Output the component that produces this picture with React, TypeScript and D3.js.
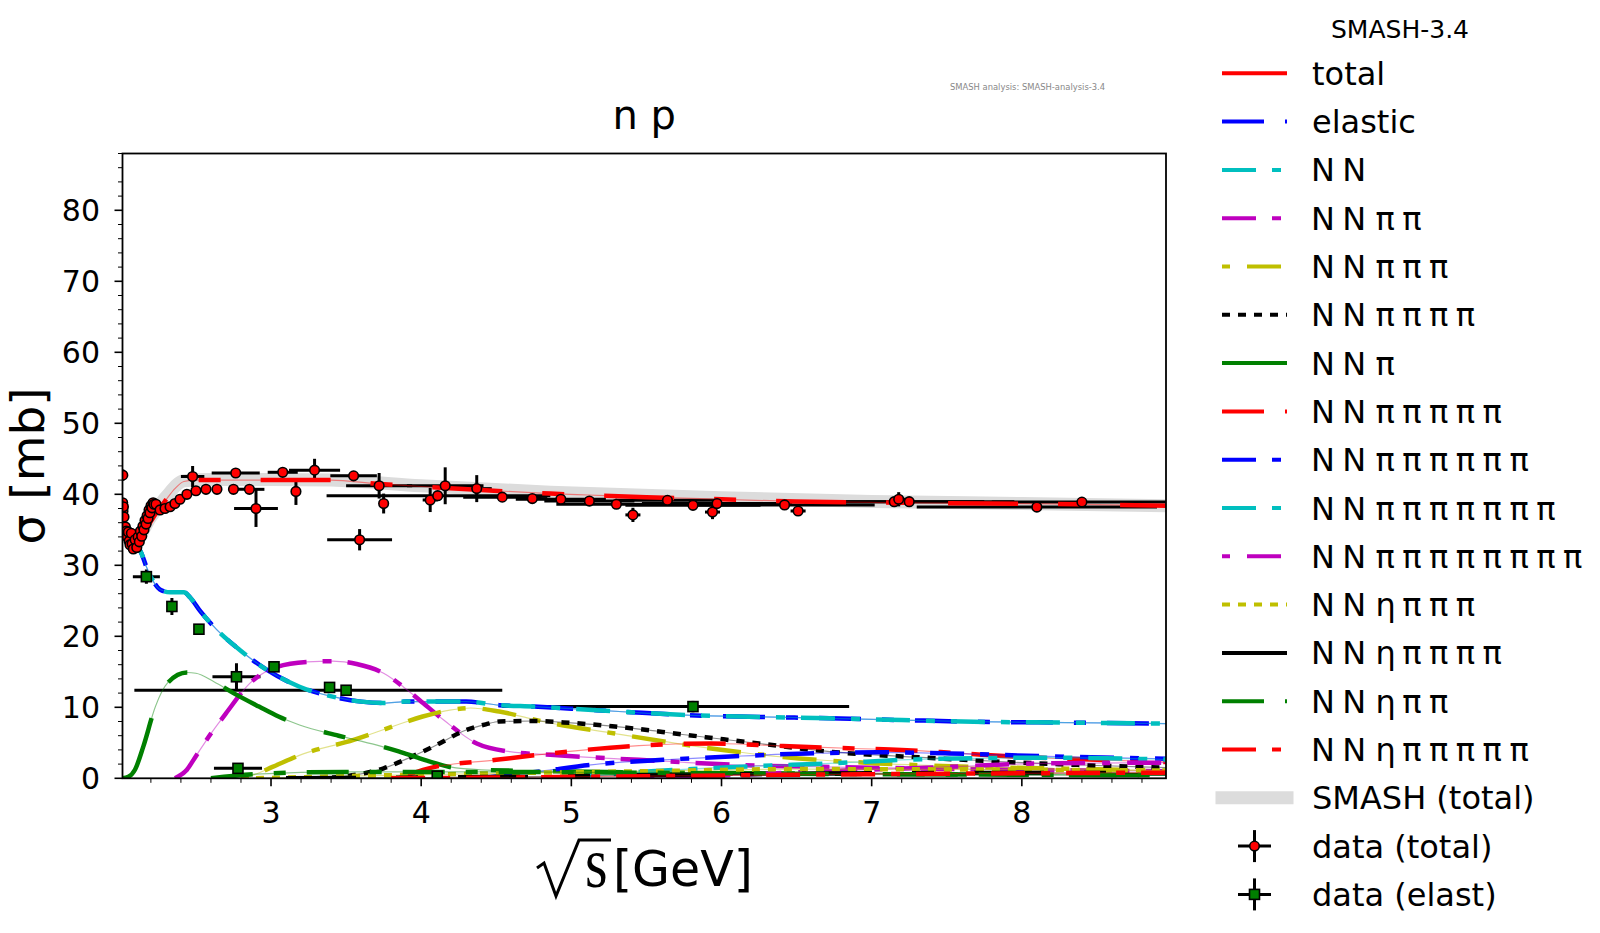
import { useMemo } from "react";
import * as d3 from "d3";

type Pt = [number, number];
// x, y, x error below, x error above, y error
type ErrPt = [number, number, number, number, number];

const width = 1600;
const height = 933;
const plot = { left: 122.5, right: 1166, top: 153.5, bottom: 778.3 };
const xDomain: [number, number] = [2.011, 8.96];
const yDomain: [number, number] = [0, 88];

const xTicks = [3, 4, 5, 6, 7, 8];
const yTicks = [0, 10, 20, 30, 40, 50, 60, 70, 80];

const totalCurve: Pt[] = [
  [2.011, 34.6], [2.05, 33.6], [2.1, 33.3], [2.15, 34.4], [2.2, 36.2], [2.25, 37.8], [2.3, 39.2],
  [2.36, 40.8], [2.42, 41.8], [2.5, 42.0], [2.8, 42.0], [3.1, 42.0], [3.4, 42.0], [3.7, 41.5],
  [4.0, 41.1], [4.4, 40.6], [4.86, 40.1], [5.11, 39.9], [5.5, 39.6], [6.0, 39.3], [6.49, 39.0],
  [7.0, 38.85], [7.5, 38.75], [8.17, 38.65], [8.96, 38.4]
];
const smashTotalCurve: Pt[] = [
  [2.011, 35.0], [2.1, 33.8], [2.2, 36.8], [2.3, 39.6], [2.42, 41.9], [2.6, 42.1], [3.0, 42.1],
  [3.4, 42.0], [4.0, 41.2], [4.86, 40.3], [6.0, 39.5], [7.0, 39.0], [8.0, 38.7], [8.96, 38.4]
];
const elasticCurve: Pt[] = [
  [2.011, 34.8], [2.06, 33.4], [2.1, 32.7], [2.13, 32.0], [2.17, 29.8], [2.22, 27.6], [2.26, 26.6],
  [2.33, 26.2], [2.42, 26.2], [2.46, 25.5], [2.53, 23.5], [2.64, 20.9], [2.79, 18.1], [2.97, 15.3],
  [3.19, 12.9], [3.41, 11.5], [3.6, 10.8], [3.75, 10.6], [3.9, 10.8], [4.1, 10.8], [4.3, 10.8],
  [4.52, 10.3], [4.75, 10.1], [5.0, 9.8], [5.4, 9.3], [5.77, 8.9], [6.25, 8.65], [6.72, 8.45],
  [7.2, 8.2], [7.68, 7.97], [8.3, 7.85], [8.96, 7.7]
];
const nnCurve: Pt[] = [
  [2.011, 34.8], [2.06, 33.4], [2.1, 32.7], [2.13, 32.0], [2.17, 29.8], [2.22, 27.6], [2.26, 26.6],
  [2.33, 26.2], [2.42, 26.2], [2.46, 25.5], [2.53, 23.5], [2.64, 20.9], [2.79, 18.1], [2.97, 15.3],
  [3.19, 12.9], [3.41, 11.5], [3.6, 10.8], [3.75, 10.6], [3.9, 10.8], [4.1, 10.8], [4.3, 10.8],
  [4.52, 10.3], [4.75, 10.1], [5.0, 9.8], [5.4, 9.3], [5.77, 8.9], [6.25, 8.65], [6.72, 8.45],
  [7.2, 8.2], [7.68, 7.97], [8.3, 7.85], [8.96, 7.7]
];
const nnPiPiCurve: Pt[] = [
  [2.36, 0], [2.44, 1.2], [2.49, 2.8], [2.6, 6.3], [2.7, 9.15], [2.86, 13.4], [3.04, 15.7],
  [3.24, 16.4], [3.41, 16.5], [3.57, 16.1], [3.75, 14.8], [3.88, 12.9], [3.99, 11.0], [4.15, 8.2],
  [4.37, 4.9], [4.59, 3.75], [4.86, 3.3], [5.45, 2.6], [6.09, 1.9], [7.0, 1.5], [8.0, 1.2], [8.96, 1.0]
];
const nnPi3Curve: Pt[] = [
  [2.8, 0], [2.9, 0.6], [3.01, 1.6], [3.21, 3.4], [3.55, 5.4], [3.81, 7.3], [4.01, 8.7],
  [4.19, 9.6], [4.33, 9.9], [4.52, 9.4], [4.81, 8.0], [5.29, 6.3], [5.93, 4.2], [6.41, 3.0],
  [7.04, 2.1], [7.68, 1.6], [8.3, 1.35], [8.96, 1.1]
];
const nnPi4Curve: Pt[] = [
  [3.3, 0], [3.5, 0.3], [3.75, 1.4], [3.9, 2.7], [4.08, 4.45], [4.3, 6.8], [4.43, 7.6], [4.52, 8.0],
  [4.75, 8.07], [5.0, 7.8], [5.29, 7.3], [5.77, 6.1], [6.25, 4.9], [6.72, 3.75], [7.36, 2.9],
  [8.0, 2.2], [8.5, 1.8], [8.96, 1.5]
];
const nnPiCurve: Pt[] = [
  [2.011, 0], [2.05, 0.2], [2.094, 1.2], [2.15, 4.5], [2.23, 10.1], [2.31, 13.4], [2.44, 14.9],
  [2.5, 14.8], [2.62, 13.6], [2.75, 12.0], [2.92, 10.1], [3.05, 8.7], [3.19, 7.5], [3.45, 6.0],
  [3.7, 4.7], [3.85, 3.8], [3.99, 2.8], [4.19, 1.6], [4.4, 1.2], [5.0, 0.95], [6.0, 0.75],
  [7.0, 0.6], [8.0, 0.5], [8.96, 0.45]
];
const nnPi5Curve: Pt[] = [
  [3.85, 0], [4.05, 1.4], [4.5, 2.6], [4.97, 3.75], [5.45, 4.6], [5.93, 4.9], [6.41, 4.55],
  [6.88, 4.2], [7.2, 4.0], [7.6, 3.5], [8.0, 3.0], [8.5, 2.6], [8.96, 2.3]
];
const nnPi6Curve: Pt[] = [
  [4.4, 0], [4.8, 1.0], [5.13, 1.9], [5.61, 2.6], [6.09, 3.1], [6.57, 3.5], [7.04, 3.66],
  [7.52, 3.5], [8.16, 3.1], [8.96, 2.75]
];
const nnPi7Curve: Pt[] = [
  [4.95, 0], [5.4, 0.8], [6.09, 1.6], [6.72, 2.1], [7.36, 2.7], [8.16, 2.9], [8.96, 2.65]
];
const nnPi8Curve: Pt[] = [
  [5.5, 0], [6.0, 0.4], [6.7, 1.0], [7.5, 1.6], [8.16, 2.1], [8.96, 2.2]
];
const nnEtaPi3Curve: Pt[] = [
  [2.9, 0], [3.5, 0.3], [4.5, 0.7], [5.5, 1.0], [6.5, 1.3], [7.5, 1.25], [8.96, 1.1]
];
const nnEtaPi4Curve: Pt[] = [
  [3.1, 0], [4.0, 0.1], [5.0, 0.3], [6.0, 0.55], [7.0, 0.7], [8.0, 0.75], [8.96, 0.7]
];
const nnEtaPi2Curve: Pt[] = [
  [2.6, 0], [2.9, 0.6], [3.5, 0.9], [4.5, 0.9], [6.0, 0.7], [7.5, 0.55], [8.96, 0.45]
];
const nnEtaPi5Curve: Pt[] = [
  [3.8, 0], [4.5, 0.1], [5.5, 0.3], [6.5, 0.5], [7.5, 0.65], [8.96, 0.8]
];

const seriesLabels = [
  "total", "elastic", "N N", "N N π π", "N N π π π", "N N π π π π", "N N π",
  "N N π π π π π", "N N π π π π π π", "N N π π π π π π π", "N N π π π π π π π π",
  "N N η π π π", "N N η π π π π", "N N η π π", "N N η π π π π π"
];
const seriesCurves = [
  totalCurve, elasticCurve, nnCurve, nnPiPiCurve, nnPi3Curve, nnPi4Curve, nnPiCurve,
  nnPi5Curve, nnPi6Curve, nnPi7Curve, nnPi8Curve, nnEtaPi3Curve, nnEtaPi4Curve,
  nnEtaPi2Curve, nnEtaPi5Curve
];
const seriesColors = [
  "#ff0000", "#0000ff", "#00bfbf", "#bf00bf", "#bfbf00", "#000000", "#008000",
  "#ff0000", "#0000ff", "#00bfbf", "#bf00bf", "#bfbf00", "#000000", "#008000", "#ff0000"
];

const dataTotal: ErrPt[] = [
  [2.013, 42.7, 0, 0, 0.8], [2.012, 38.8, 0, 0, 0], [2.014, 37.6, 0, 0, 0], [2.017, 38.25, 0, 0, 0],
  [2.021, 36.8, 0, 0, 0], [2.03, 35.4, 0, 0, 0], [2.036, 34.8, 0, 0, 0], [2.043, 34.0, 0, 0, 0],
  [2.05, 34.7, 0, 0, 0], [2.055, 33.4, 0, 0, 0], [2.061, 32.9, 0, 0, 0], [2.07, 34.5, 0, 0, 0],
  [2.075, 33.0, 0, 0, 0], [2.083, 32.3, 0, 0, 0], [2.095, 33.6, 0, 0, 0], [2.106, 32.5, 0, 0, 0],
  [2.115, 34.0, 0, 0, 0], [2.123, 33.3, 0, 0, 0], [2.13, 34.8, 0, 0, 0], [2.139, 34.1, 0, 0, 0],
  [2.147, 35.5, 0, 0, 0], [2.154, 35.0, 0, 0, 0], [2.161, 36.3, 0, 0, 0], [2.168, 35.8, 0, 0, 0],
  [2.175, 37.0, 0, 0, 0], [2.181, 36.6, 0, 0, 0], [2.188, 37.8, 0, 0, 0], [2.194, 37.4, 0, 0, 0],
  [2.201, 38.4, 0, 0, 0], [2.208, 38.1, 0, 0, 0], [2.215, 38.8, 0, 0, 0], [2.221, 38.6, 0, 0, 0],
  [2.234, 38.6, 0, 0, 0], [2.261, 37.8, 0, 0, 0], [2.294, 38.0, 0, 0, 0], [2.328, 38.25, 0, 0, 0],
  [2.36, 38.7, 0, 0, 0], [2.394, 39.3, 0, 0, 0], [2.44, 40.0, 0, 0, 0], [2.5, 40.5, 0, 0, 0],
  [2.567, 40.7, 0, 0, 0], [2.64, 40.7, 0, 0, 0], [2.75, 40.7, 0, 0, 0], [2.856, 40.7, 0.1, 0.1, 0],
  [2.478, 42.5, 0.078, 0.078, 1.5], [2.765, 43.0, 0.16, 0.16, 0.6], [3.078, 43.1, 0.1, 0.1, 0.4],
  [3.29, 43.4, 0.17, 0.17, 1.6], [3.55, 42.6, 0.155, 0.155, 0.5], [3.72, 41.2, 0.22, 0.22, 1.8],
  [3.75, 38.7, 0.03, 0.03, 1.4], [3.166, 40.4, 0.02, 0.02, 1.9], [2.9, 38.0, 0.146, 0.146, 2.6],
  [3.59, 33.6, 0.216, 0.216, 1.5], [4.06, 39.2, 0.05, 0.05, 1.7], [4.11, 39.8, 0.74, 0.75, 0.5],
  [4.16, 41.2, 0.255, 0.255, 2.6], [4.37, 40.8, 0.1, 0.1, 1.9], [4.54, 39.6, 0.26, 0.26, 0.5],
  [4.74, 39.4, 0.1, 0.1, 0.3], [4.93, 39.3, 0.3, 0.3, 0.3], [5.12, 39.05, 0.3, 0.3, 0.3],
  [5.3, 38.6, 0.4, 0.4, 0.3], [5.41, 37.1, 0.05, 0.05, 1.0], [5.64, 39.15, 0.35, 0.35, 0.3],
  [5.81, 38.45, 0.45, 0.45, 0.3], [5.94, 37.5, 0.05, 0.05, 1.0], [5.97, 38.7, 0.5, 0.5, 0.4],
  [6.42, 38.5, 0.6, 0.6, 0.3], [6.51, 37.65, 0.05, 0.05, 0.6], [7.15, 38.96, 0.6, 0.6, 0.3],
  [7.18, 39.3, 0.05, 0.05, 1.0], [7.25, 38.96, 0.7, 0.7, 0.3], [8.1, 38.2, 0.8, 0.8, 0.6],
  [8.4, 38.9, 0.6, 0.6, 0.3]
];
const dataElastic: ErrPt[] = [
  [2.17, 28.4, 0.09, 0.09, 1.0], [2.34, 24.2, 0.02, 0.02, 1.2], [2.52, 21.0, 0.02, 0.02, 0.6],
  [2.77, 14.3, 0.16, 0.16, 1.9], [3.02, 15.7, 0.02, 0.02, 0.5], [3.39, 12.8, 0.02, 0.02, 0.4],
  [3.5, 12.4, 1.41, 1.04, 0.4], [2.78, 1.4, 0.16, 0.16, 0.3], [4.107, 0.3, 0.02, 0.02, 0.2],
  [5.81, 10.1, 1.27, 1.04, 0.8]
];

// dash styles follow matplotlib's cycle: solid, dash-dot, dashed, dashed, dot-dash, dotted
const legendDash = [null, "42 21 12 21", "34 16 9 16", "34 16 9 16", "8 17 34 17", "8 8"];
const plotDash = ["70 40 22 40", "42 21 12 21", "34 16 9 16", "34 16 9 16", "8 17 34 17", "8 8"];

const font = "DejaVu Sans, sans-serif";

function LegendLabel({ label, x, y }: { label: string; x: number; y: number }) {
  if (!label.startsWith("N N")) {
    return (
      <text x={x - 2} y={y} fontSize={32} fontFamily={font}>
        {label}
      </text>
    );
  }
  const tokens = label.split(" ");
  return (
    <text y={y} fontSize={32} fontFamily={font}>
      {tokens.map((t, i) => (
        <tspan key={i} x={x + (i === 0 ? -3 : i === 1 ? 28.3 : 61.4 + (i - 2) * 26.8)}>
          {t}
        </tspan>
      ))}
    </text>
  );
}

export default function App() {
  const x = useMemo(() => d3.scaleLinear().domain(xDomain).range([plot.left, plot.right]), []);
  const y = useMemo(() => d3.scaleLinear().domain(yDomain).range([plot.bottom, plot.top]), []);
  const line = d3
    .line<Pt>()
    .x((d) => x(d[0]))
    .y((d) => y(d[1]))
    .curve(d3.curveMonotoneX);

  const xMinor = d3.range(2.2, 8.96, 0.2).filter((v) => Math.abs(v - Math.round(v)) > 0.01);
  const yMinor = d3.range(0, 88.1, 2).filter((v) => v % 10 !== 0);

  const legendX0 = 1222;
  const legendX1 = 1287;
  const rowY = (i: number) => 73.3 + 48.3 * i;

  const errorBars = (pts: ErrPt[]) =>
    pts.map((d, i) => (
      <g key={i} stroke="#000" strokeWidth={3}>
        {(d[2] > 0 || d[3] > 0) && (
          <line x1={x(d[0] - d[2])} x2={x(d[0] + d[3])} y1={y(d[1])} y2={y(d[1])} />
        )}
        {d[4] > 0 && <line x1={x(d[0])} x2={x(d[0])} y1={y(d[1] - d[4])} y2={y(d[1] + d[4])} />}
      </g>
    ));

  return (
    <svg
      width={width}
      height={height}
      viewBox={`0 0 ${width} ${height}`}
      style={{ position: "absolute", left: 0, top: 0, background: "#fff" }}
    >
      <defs>
        <clipPath id="plot-clip">
          <rect x={plot.left} y={plot.top} width={plot.right - plot.left} height={plot.bottom - plot.top} />
        </clipPath>
      </defs>
      <rect width={width} height={height} fill="#fff" />

      <text x={950} y={89.5} fontSize={8.4} fill="#888" fontFamily={font}>
        SMASH analysis: SMASH-analysis-3.4
      </text>
      <text x={(plot.left + plot.right) / 2} y={129.3} fontSize={40} textAnchor="middle" fontFamily={font}>
        n p
      </text>

      <g clipPath="url(#plot-clip)">
        <path d={line(smashTotalCurve) ?? ""} fill="none" stroke="#dcdcdc" strokeWidth={13} />
        {errorBars(dataTotal)}
        {errorBars(dataElastic)}
        {seriesCurves.map((curve, i) => (
          <g key={seriesLabels[i]}>
            <path
              d={line(curve) ?? ""}
              fill="none"
              stroke={seriesColors[i]}
              strokeOpacity={0.45}
              strokeWidth={1.2}
            />
            <path
              d={line(curve) ?? ""}
              fill="none"
              stroke={seriesColors[i]}
              strokeWidth={4.5}
              strokeDasharray={plotDash[i % 6]}
            />
          </g>
        ))}
        {dataTotal.map((d, i) => (
          <circle key={i} cx={x(d[0])} cy={y(d[1])} r={4.8} fill="#ff0000" stroke="#000" strokeWidth={1.6} />
        ))}
        {dataElastic.map((d, i) => (
          <rect
            key={i}
            x={x(d[0]) - 5}
            y={y(d[1]) - 5}
            width={10}
            height={10}
            fill="#008000"
            stroke="#000"
            strokeWidth={1.6}
          />
        ))}
      </g>

      <rect
        x={plot.left}
        y={plot.top}
        width={plot.right - plot.left}
        height={plot.bottom - plot.top}
        fill="none"
        stroke="#000"
        strokeWidth={1.8}
      />

      <g stroke="#000">
        {xTicks.map((t) => (
          <line key={t} x1={x(t)} x2={x(t)} y1={plot.bottom} y2={plot.bottom + 8} strokeWidth={1.6} />
        ))}
        {xMinor.map((t) => (
          <line key={t} x1={x(t)} x2={x(t)} y1={plot.bottom} y2={plot.bottom + 4.5} strokeWidth={1} />
        ))}
        {yTicks.map((t) => (
          <line key={t} x1={plot.left - 8} x2={plot.left} y1={y(t)} y2={y(t)} strokeWidth={1.6} />
        ))}
        {yMinor.map((t) => (
          <line key={t} x1={plot.left - 4.5} x2={plot.left} y1={y(t)} y2={y(t)} strokeWidth={1} />
        ))}
      </g>
      {xTicks.map((t) => (
        <text key={t} x={x(t)} y={823} fontSize={30} textAnchor="middle" fontFamily={font}>
          {t}
        </text>
      ))}
      {yTicks.map((t) => (
        <text key={t} x={100} y={y(t) + 11} fontSize={30} textAnchor="end" fontFamily={font}>
          {t}
        </text>
      ))}

      <text
        transform={`translate(44,${(plot.top + plot.bottom) / 2}) rotate(-90)`}
        fontSize={47}
        textAnchor="middle"
        fontFamily={font}
      >
        σ [mb]
      </text>

      <path
        d="M537,868 L544,863 L556,896 L579,840 L611,840"
        fill="none"
        stroke="#000"
        strokeWidth={3}
        strokeLinejoin="miter"
      />
      <text
        transform="translate(585,887) scale(1,1.25)"
        fontSize={58}
        fontFamily="Liberation Serif, serif"
      >
        s
      </text>
      <text x={613} y={885.5} fontSize={49} fontFamily={font}>
        [GeV]
      </text>

      <text x={1400} y={38} fontSize={25} textAnchor="middle" fontFamily={font}>
        SMASH-3.4
      </text>
      {seriesLabels.map((label, i) => (
        <g key={label}>
          <line
            x1={legendX0}
            x2={legendX1}
            y1={rowY(i)}
            y2={rowY(i)}
            stroke={seriesColors[i]}
            strokeWidth={4}
            strokeDasharray={legendDash[i % 6] ?? undefined}
          />
          <LegendLabel label={label} x={1314} y={rowY(i) + 11.5} />
        </g>
      ))}
      <line x1={1222} x2={1287} y1={rowY(15)} y2={rowY(15)} stroke="#dcdcdc" strokeWidth={13} strokeLinecap="square" />
      <LegendLabel label="SMASH (total)" x={1314} y={rowY(15) + 11.5} />
      <g stroke="#000" strokeWidth={3}>
        <line x1={1238} x2={1271} y1={rowY(16)} y2={rowY(16)} />
        <line x1={1254.5} x2={1254.5} y1={rowY(16) - 16} y2={rowY(16) + 16} />
        <line x1={1238} x2={1271} y1={rowY(17)} y2={rowY(17)} />
        <line x1={1254.5} x2={1254.5} y1={rowY(17) - 16} y2={rowY(17) + 16} />
      </g>
      <circle cx={1254.5} cy={rowY(16)} r={4.8} fill="#ff0000" stroke="#000" strokeWidth={1.6} />
      <rect x={1249.5} y={rowY(17) - 5} width={10} height={10} fill="#008000" stroke="#000" strokeWidth={1.6} />
      <LegendLabel label="data (total)" x={1314} y={rowY(16) + 11.5} />
      <LegendLabel label="data (elast)" x={1314} y={rowY(17) + 11.5} />
    </svg>
  );
}
